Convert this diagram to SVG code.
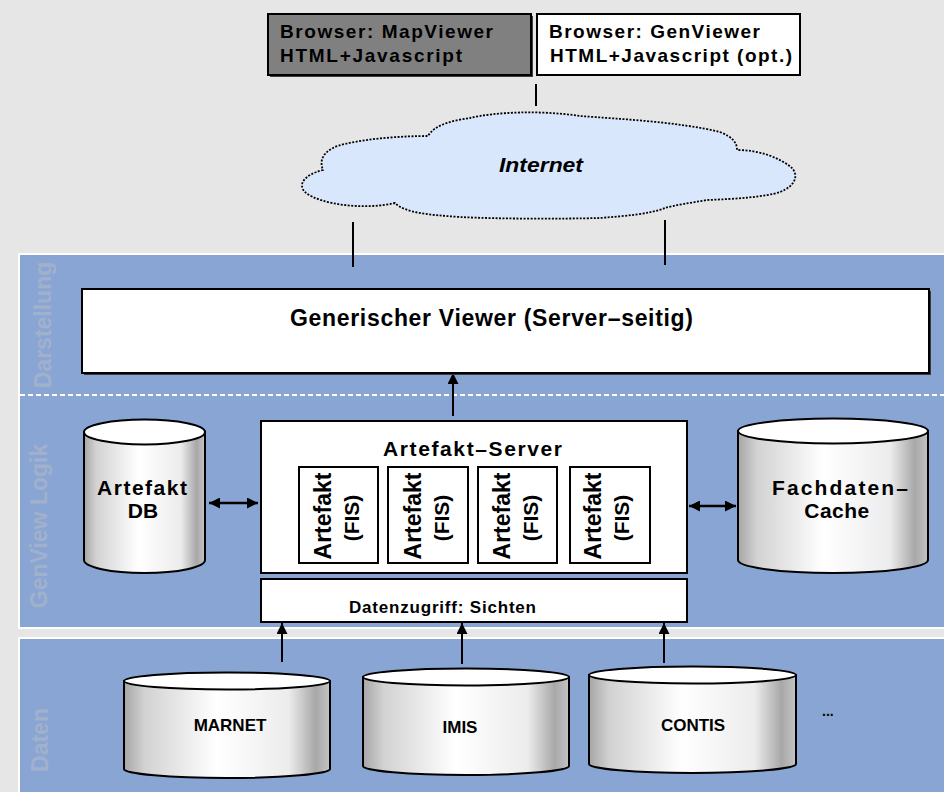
<svg xmlns="http://www.w3.org/2000/svg" width="944" height="792" viewBox="0 0 944 792">
<style>
text{font-family:"Liberation Sans",Arial,sans-serif;fill:#000}
.b{font-weight:bold}
.lane{font-size:23px;font-weight:bold;fill:#a2b1cb}
.box{fill:#fff;stroke:#000;stroke-width:2}
.cyl{fill:url(#cg);stroke:#000;stroke-width:2}
.cyltop{fill:#fff;stroke:#000;stroke-width:2}
.ln{stroke:#000;stroke-width:2;fill:none}
.arr{stroke:#000;stroke-width:2;fill:none;marker-end:url(#ah)}
.darr{stroke:#000;stroke-width:2.5;fill:none;marker-end:url(#ah2);marker-start:url(#ah2)}
</style>
<defs>
<linearGradient id="cg" x1="0" y1="0" x2="1" y2="0">
<stop offset="0" stop-color="#a6a6a6"/>
<stop offset="0.1" stop-color="#d2d2d2"/>
<stop offset="0.45" stop-color="#ffffff"/>
<stop offset="0.8" stop-color="#ececec"/>
<stop offset="0.93" stop-color="#a8a8a8"/>
<stop offset="1" stop-color="#c4c4c4"/>
</linearGradient>
<marker id="ah" viewBox="0 0 10 10" refX="10" refY="5" markerWidth="12" markerHeight="11" markerUnits="userSpaceOnUse" orient="auto-start-reverse">
<path d="M0,0 L10,5 L0,10 z" fill="#000"/>
</marker>
<marker id="ah2" viewBox="0 0 10 10" refX="10" refY="5" markerWidth="11" markerHeight="11" markerUnits="userSpaceOnUse" orient="auto-start-reverse">
<path d="M0,0 L10,5 L0,10 z" fill="#000"/>
</marker>
</defs>

<rect x="0" y="0" width="944" height="792" fill="#e6e6e6"/>

<g id="lanes">
<rect x="19" y="254" width="930" height="374" fill="#88a5d4" stroke="#fff" stroke-width="2"/>
<rect x="19" y="638" width="930" height="160" fill="#88a5d4" stroke="#fff" stroke-width="2"/>
<line x1="20" y1="395" x2="944" y2="395" stroke="#fff" stroke-width="2" stroke-dasharray="5,3"/>
<text class="lane" transform="translate(51,325) rotate(-90)" text-anchor="middle">Darstellung</text>
<text class="lane" transform="translate(47,526) rotate(-90)" text-anchor="middle">GenView Logik</text>
<text class="lane" transform="translate(48,740) rotate(-90)" text-anchor="middle">Daten</text>
</g>

<g id="connectors">
<line class="ln" x1="536" y1="84" x2="536" y2="106"/>
<line class="ln" x1="353" y1="222" x2="353" y2="267"/>
<line class="ln" x1="665" y1="220" x2="665" y2="265"/>
<line class="arr" x1="453" y1="416" x2="453" y2="373"/>
<line class="darr" x1="209" y1="503" x2="258" y2="503"/>
<line class="darr" x1="689" y1="506" x2="736" y2="506"/>
<line class="arr" x1="282" y1="662" x2="282" y2="623"/>
<line class="arr" x1="462" y1="664" x2="462" y2="623"/>
<line class="arr" x1="664" y1="663" x2="664" y2="623"/>
</g>

<g id="browser-mapviewer">
<rect x="270" y="16" width="263" height="61" fill="#404040"/>
<rect x="268" y="14" width="263" height="61" fill="#808080" stroke="#000" stroke-width="2"/>
<text class="b" x="280" y="38" font-size="19" textLength="213" lengthAdjust="spacing">Browser: MapViewer</text>
<text class="b" x="280" y="62" font-size="19" textLength="182" lengthAdjust="spacing">HTML+Javascript</text>
</g>

<g id="browser-genviewer">
<rect x="537" y="14" width="263" height="61" class="box"/>
<text class="b" x="549" y="38" font-size="19" textLength="211" lengthAdjust="spacing">Browser: GenViewer</text>
<text class="b" x="550" y="62" font-size="19" textLength="242" lengthAdjust="spacing">HTML+Javascript (opt.)</text>
</g>

<g id="internet">
<path d="M395,203 C365,210 320,205 305,192 C298,185 303,175 323,170 C318,158 326,148 345,144 C370,138 405,136 428,136 C435,124 455,120 470,118 C495,112 540,110 580,116 C620,119 680,122 720,132 C732,137 737,142 737,150 C760,150 780,158 792,168 C799,176 795,186 780,192 C765,197 735,199 707,200 C690,203 675,205 665,208 C650,214 625,216 600,218 C560,219 500,219 460,217 C430,215 405,213 395,203 Z" fill="#d9e7fd" stroke="#000" stroke-width="1.8" stroke-dasharray="2,1.5"/>
<text class="b" x="499" y="172" font-size="21" font-style="italic" textLength="84" lengthAdjust="spacingAndGlyphs">Internet</text>
</g>

<g id="generischer-viewer">
<rect x="84" y="291" width="847" height="84" fill="#3a3a3a"/>
<rect x="82" y="289" width="847" height="84" class="box"/>
<text class="b" x="290" y="326" font-size="23" textLength="403" lengthAdjust="spacing">Generischer Viewer (Server–seitig)</text>
</g>

<g id="artefakt-server">
<rect x="261" y="421" width="426" height="152" class="box"/>
<text class="b" x="383" y="456" font-size="21" textLength="179" lengthAdjust="spacing">Artefakt–Server</text>
<rect x="299" y="467" width="79" height="96" class="box"/>
<text class="b" font-size="23" text-anchor="middle" transform="translate(331,516) rotate(-90)">Artefakt</text>
<text class="b" font-size="21" text-anchor="middle" transform="translate(359,518) rotate(-90)">(FIS)</text>
<rect x="388" y="467" width="80" height="96" class="box"/>
<text class="b" font-size="23" text-anchor="middle" transform="translate(421,516) rotate(-90)">Artefakt</text>
<text class="b" font-size="21" text-anchor="middle" transform="translate(449,518) rotate(-90)">(FIS)</text>
<rect x="478" y="467" width="79" height="96" class="box"/>
<text class="b" font-size="23" text-anchor="middle" transform="translate(510,516) rotate(-90)">Artefakt</text>
<text class="b" font-size="21" text-anchor="middle" transform="translate(538,518) rotate(-90)">(FIS)</text>
<rect x="570" y="467" width="80" height="96" class="box"/>
<text class="b" font-size="23" text-anchor="middle" transform="translate(601,516) rotate(-90)">Artefakt</text>
<text class="b" font-size="21" text-anchor="middle" transform="translate(629,518) rotate(-90)">(FIS)</text>
</g>

<g id="datenzugriff">
<rect x="261" y="579" width="426" height="43" class="box"/>
<text class="b" x="349" y="613" font-size="17" textLength="187" lengthAdjust="spacing">Datenzugriff: Sichten</text>
</g>

<g id="artefakt-db">
<path class="cyl" d="M84,432 L84,560 A60.5,13 0 0 0 205,560 L205,432 Z"/>
<ellipse class="cyltop" cx="144.5" cy="432" rx="60.5" ry="12.5"/>
<text class="b" x="97" y="495" font-size="21" textLength="90" lengthAdjust="spacing">Artefakt</text>
<text class="b" x="143" y="518" font-size="21" text-anchor="middle">DB</text>
</g>

<g id="fachdaten-cache">
<path class="cyl" d="M738,431 L738,560 A95,13 0 0 0 928,560 L928,431 Z"/>
<ellipse class="cyltop" cx="833" cy="431" rx="95" ry="12.5"/>
<text class="b" x="772" y="495" font-size="21" textLength="136" lengthAdjust="spacing">Fachdaten–</text>
<text class="b" x="837" y="518" font-size="21" text-anchor="middle" letter-spacing="0.5">Cache</text>
</g>

<g id="marnet">
<path class="cyl" d="M124,681 L124,769 A103,9 0 0 0 330,769 L330,681 Z"/>
<ellipse class="cyltop" cx="227" cy="681" rx="103" ry="8.5"/>
<text class="b" x="230" y="731" font-size="17" text-anchor="middle">MARNET</text>
</g>

<g id="imis">
<path class="cyl" d="M363,677 L363,766 A103,9 0 0 0 569,766 L569,677 Z"/>
<ellipse class="cyltop" cx="466" cy="677" rx="103" ry="8.5"/>
<text class="b" x="460" y="733" font-size="17" text-anchor="middle">IMIS</text>
</g>

<g id="contis">
<path class="cyl" d="M589,675 L589,764 A103.5,9 0 0 0 796,764 L796,675 Z"/>
<ellipse class="cyltop" cx="692.5" cy="675" rx="103.5" ry="8.5"/>
<text class="b" x="693" y="731" font-size="17" text-anchor="middle">CONTIS</text>
</g>

<g id="more">
<text class="b" x="822" y="716" font-size="14">...</text>
</g>
</svg>
